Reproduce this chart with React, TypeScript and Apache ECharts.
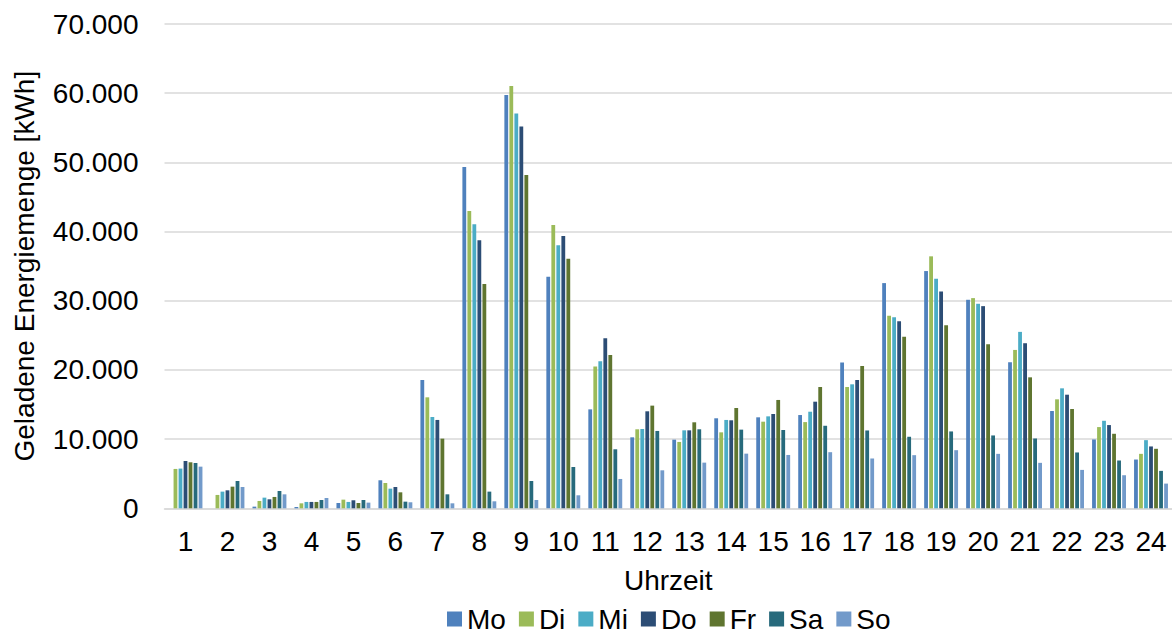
import React, { useEffect, useRef } from "react";
import * as echarts from "echarts";

const hours = ["1","2","3","4","5","6","7","8","9","10","11","12","13","14","15","16","17","18","19","20","21","22","23","24"];
const days = ["Mo", "Di", "Mi", "Do", "Fr", "Sa", "So"];
const dayColors = ["#4F81BD", "#9BBB59", "#4BACC6", "#2C4D75", "#5F7530", "#276A7C", "#729ACA"];

const mo = [0, 0, 240, 190, 770, 4050, 18550, 49330, 59730, 33480, 14300, 10260, 9920, 13010, 13150, 13480, 21060, 32550, 34290, 30140, 21110, 14060, 9950, 7050];
const di = [5690, 1930, 1060, 720, 1250, 3660, 16040, 42970, 61030, 40940, 20500, 11420, 9590, 10980, 12520, 12460, 17530, 27820, 36420, 30380, 22890, 15750, 11740, 7870];
const mi = [5740, 2410, 1540, 920, 920, 2840, 13200, 41040, 57080, 38010, 21240, 11460, 11270, 12770, 13290, 13960, 17920, 27630, 33180, 29560, 25500, 17340, 12650, 9850];
const don = [6840, 2600, 1300, 920, 1160, 3080, 12770, 38730, 55200, 39350, 24570, 14020, 11270, 12720, 13630, 15410, 18550, 27050, 31350, 29220, 23860, 16420, 12030, 8940];
const fr = [6650, 3130, 1640, 920, 770, 2310, 10070, 32420, 48170, 36080, 22160, 14840, 12430, 14500, 15660, 17530, 20580, 24780, 26470, 23720, 18930, 14350, 10770, 8600];
const sa = [6550, 3950, 2500, 1200, 1200, 960, 2020, 2410, 3950, 5970, 8530, 11180, 11420, 11370, 11320, 11930, 11250, 10340, 11110, 10530, 10090, 8070, 6910, 5410];
const so = [6020, 3080, 2020, 1490, 820, 870, 720, 1010, 1200, 1880, 4240, 5490, 6600, 7900, 7710, 8110, 7200, 7680, 8400, 7870, 6570, 5550, 4780, 3570];

const seriesValues = [mo, di, mi, don, fr, sa, so];

const FONT = "'Liberation Sans', Arial, sans-serif";

function fmt(v: number): string {
  const s = String(Math.round(v));
  return s.replace(/\B(?=(\d{3})+(?!\d))/g, ".");
}

export default function App() {
  const ref = useRef<HTMLDivElement>(null);
  useEffect(() => {
    if (!ref.current) return;
    const chart = echarts.init(ref.current, undefined, { renderer: "svg" });
    chart.setOption({
      animation: false,
      textStyle: { fontFamily: FONT },
      grid: { left: 164.5, right: -6, top: 24, bottom: 128.7, containLabel: false },
      legend: {
        data: days,
        left: 447,
        top: 605,
        padding: 0,
        itemWidth: 15,
        itemHeight: 15,
        itemGap: 13,
        icon: "rect",
        textStyle: { fontSize: 28, color: "#000", fontFamily: FONT },
      },
      xAxis: {
        type: "category",
        data: hours,
        name: "Uhrzeit",
        nameLocation: "middle",
        nameGap: 58,
        nameTextStyle: { fontSize: 28, color: "#000", fontFamily: FONT },
        axisLine: { show: true, lineStyle: { color: "#d9d9d9", width: 1.5 } },
        axisTick: { show: false },
        axisLabel: { interval: 0, fontSize: 28, color: "#000", margin: 19, fontFamily: FONT },
      },
      yAxis: {
        type: "value",
        min: 0,
        max: 70000,
        interval: 10000,
        name: "Geladene Energiemenge [kWh]",
        nameLocation: "middle",
        nameGap: 126,
        nameTextStyle: { fontSize: 28, color: "#000", fontFamily: FONT },
        axisLine: { show: false },
        axisTick: { show: false },
        axisLabel: { fontSize: 28, color: "#000", margin: 26, formatter: (v: number) => fmt(v), fontFamily: FONT },
        splitLine: { show: true, lineStyle: { color: "#d9d9d9", width: 1.5 } },
      },
      series: days.map((d, i) => ({
        name: d,
        type: "bar",
        data: seriesValues[i],
        barWidth: 3.8,
        barGap: "32%",
        itemStyle: { color: dayColors[i] },
      })),
    });
    return () => chart.dispose();
  }, []);
  return (
    <div
      ref={ref}
      style={{ position: "absolute", left: 0, top: 0, width: 1172, height: 637, background: "#fff" }}
    />
  );
}
